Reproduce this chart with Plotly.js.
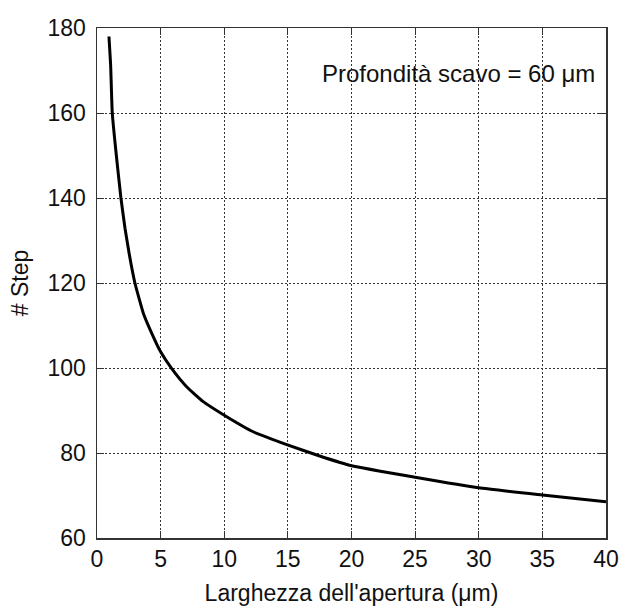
<!DOCTYPE html>
<html>
<head>
<meta charset="utf-8">
<script src="https://cdn.plot.ly/plotly-3.0.1.min.js"></script>
<style>html,body{margin:0;padding:0;background:#fff;}#chart{width:620px;height:610px;}</style>
</head>
<body>
<div id="chart"></div>
<script>
// Data
const apertura = [0.94, 1.07, 1.2, 1.52, 1.88, 2.2, 2.54, 2.98, 3.64, 4.42, 5.0, 5.86, 7.04, 8.35, 10, 12.28, 14.97, 17.5, 20, 25, 30, 35, 40];
const steps = [178, 171.4, 160, 150, 140, 132.9, 126.7, 120, 112.9, 107.4, 103.8, 99.9, 95.6, 92.1, 88.9, 85.0, 81.9, 79.3, 77.0, 74.3, 71.8, 70.1, 68.5];
const xTicks = [0, 5, 10, 15, 20, 25, 30, 35, 40];
const yTicks = [60, 80, 100, 120, 140, 160, 180];
const annotationText = "Profondità scavo = 60 μm";
const xTitle = "Larghezza dell'apertura (μm)";
const yTitle = "# Step";

const fontFam = "Liberation Sans, Arial, sans-serif";
const axisCommon = {
  showline: true, linecolor: '#333', linewidth: 1.5, mirror: 'allticks',
  ticks: 'inside', ticklen: 7, tickcolor: '#333', tickwidth: 1,
  showgrid: true, gridcolor: '#333', griddash: '2px,2px', gridwidth: 1,
  zeroline: false, tickfont: {family: fontFam, size: 23, color: '#111'}
};

const trace = {
  x: apertura, y: steps, type: 'scatter', mode: 'lines',
  line: {color: '#000', width: 3, shape: 'spline', smoothing: 0.4}, hoverinfo: 'skip', showlegend: false
};

const layout = {
  width: 620, height: 610,
  margin: {l: 97, r: 14, t: 28, b: 72},
  paper_bgcolor: '#fff', plot_bgcolor: '#fff',
  font: {family: fontFam, color: '#111'},
  xaxis: Object.assign({}, axisCommon, {
    range: [0, 40], tickvals: xTicks, ticktext: xTicks.map(String),
    title: {text: xTitle, font: {family: fontFam, size: 23, color: '#111'}, standoff: 14}
  }),
  yaxis: Object.assign({}, axisCommon, {
    range: [60, 180], tickvals: yTicks, ticktext: yTicks.map(String),
    ticklabelstandoff: 5,
    title: {text: yTitle, font: {family: fontFam, size: 23, color: '#111'}, standoff: 12}
  }),
  annotations: [{
    x: 39.3, y: 169.4, xref: 'x', yref: 'y', xanchor: 'right', yanchor: 'middle',
    text: annotationText, showarrow: false,
    font: {family: fontFam, size: 24, color: '#111'}
  }]
};

Plotly.newPlot('chart', [trace], layout, {displayModeBar: false, staticPlot: true});
</script>
</body>
</html>
